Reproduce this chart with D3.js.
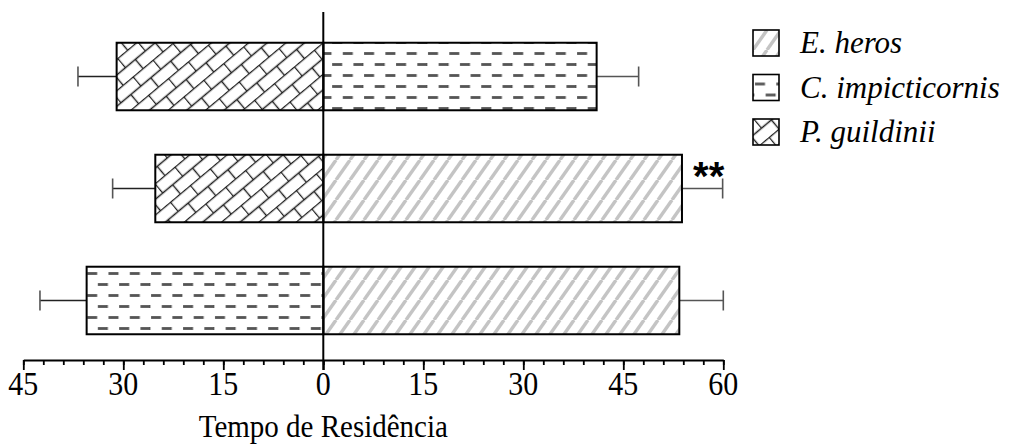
<!DOCTYPE html>
<html>
<head>
<meta charset="utf-8">
<script src="https://cdn.jsdelivr.net/npm/d3@7/dist/d3.min.js"></script>
<style>
  html, body { margin: 0; padding: 0; background: #fff; }
  svg { display: block; }
</style>
</head>
<body>
<svg id="chart" width="1028" height="446"></svg>
<script>
// Residence time per pair of species (mean ± error), one species on each side of zero
const species = ["E. heros", "C. impicticornis", "P. guildinii"];
const pairs = ["C. impicticornis / P. guildinii", "E. heros / P. guildinii", "E. heros / C. impicticornis"];
const rightSpecies = ["C. impicticornis", "E. heros", "E. heros"];
const rightMeans = [41, 53.8, 53.4];
const rightErrors = [6.3, 6.1, 6.6];
const leftSpecies = ["P. guildinii", "P. guildinii", "C. impicticornis"];
const leftMeans = [31, 25.2, 35.5];
const leftErrors = [5.8, 6.4, 7.0];
const significance = ["", "**", ""];
const majorTicks = [-45, -30, -15, 0, 15, 30, 45, 60];
const minorTicks = d3.range(-45, 61, 3);
const axisTitle = "Tempo de Residência";

const svg = d3.select("#chart");
const serif = "Liberation Serif";

const x = d3.scaleLinear().domain([-45, 60]).range([23.3, 723.3]);
const y = d3.scaleBand().domain(pairs).range([18.5, 358.5]).paddingInner(0.397).paddingOuter(0.2165);
const axisY = 360;

// Fill patterns, one per species
const defs = svg.append("defs");

const stripes = defs.append("pattern")
  .attr("id", "pat-heros").attr("patternUnits", "userSpaceOnUse")
  .attr("width", 14).attr("height", 20);
stripes.append("rect").attr("width", 14).attr("height", 20).attr("fill", "#fff");
[-14, 0, 14].forEach(dx => {
  stripes.append("line")
    .attr("x1", dx).attr("y1", 20).attr("x2", dx + 14).attr("y2", 0)
    .attr("stroke", "#c4c4c4").attr("stroke-width", 3.4);
});

const dashes = defs.append("pattern")
  .attr("id", "pat-cimp").attr("patternUnits", "userSpaceOnUse")
  .attr("width", 21.3).attr("height", 22).attr("y", 4);
dashes.append("rect").attr("width", 21.3).attr("height", 22).attr("fill", "#fff");
dashes.append("line").attr("x1", 2).attr("x2", 12).attr("y1", 5.5).attr("y2", 5.5)
  .attr("stroke", "#555").attr("stroke-width", 2.8);
dashes.append("line").attr("x1", 12.65).attr("x2", 22.65).attr("y1", 16.5).attr("y2", 16.5)
  .attr("stroke", "#555").attr("stroke-width", 2.8);
dashes.append("line").attr("x1", -8.65).attr("x2", 1.35).attr("y1", 16.5).attr("y2", 16.5)
  .attr("stroke", "#555").attr("stroke-width", 2.8);

const bricks = defs.append("pattern")
  .attr("id", "pat-guil").attr("patternUnits", "userSpaceOnUse")
  .attr("width", 26).attr("height", 24)
  .attr("patternTransform", "rotate(-40)");
bricks.append("rect").attr("width", 26).attr("height", 24).attr("fill", "#fff");
const brickPath = "M0,0.5H26M0,12.5H26M0.5,0.5V12.5M13.5,12.5V24.5";
bricks.append("path").attr("d", brickPath).attr("fill", "none")
  .attr("stroke", "#1e1e1e").attr("stroke-width", 1.4);

const fillFor = {
  "E. heros": "url(#pat-heros)",
  "C. impicticornis": "url(#pat-cimp)",
  "P. guildinii": "url(#pat-guil)"
};

// Error bars drawn first so the bars sit on top of their stems
const errColor = "#555";
const errG = svg.append("g");
pairs.forEach((p, i) => {
  const cy = y(p) + y.bandwidth() / 2;
  const rEnd = rightMeans[i] + rightErrors[i];
  const lEnd = -(leftMeans[i] + leftErrors[i]);
  errG.append("line").attr("x1", x(rightMeans[i])).attr("x2", x(rEnd)).attr("y1", cy).attr("y2", cy)
    .attr("stroke", errColor).attr("stroke-width", 1.6);
  errG.append("line").attr("x1", x(rEnd)).attr("x2", x(rEnd)).attr("y1", cy - 10).attr("y2", cy + 10)
    .attr("stroke", errColor).attr("stroke-width", 1.6);
  errG.append("line").attr("x1", x(-leftMeans[i])).attr("x2", x(lEnd)).attr("y1", cy).attr("y2", cy)
    .attr("stroke", "#222").attr("stroke-width", 1.6);
  errG.append("line").attr("x1", x(lEnd)).attr("x2", x(lEnd)).attr("y1", cy - 10).attr("y2", cy + 10)
    .attr("stroke", errColor).attr("stroke-width", 1.6);
});

// Bars
const barG = svg.append("g");
barG.selectAll("rect.right").data(pairs).join("rect")
  .attr("class", "right")
  .attr("x", x(0)).attr("y", d => y(d))
  .attr("width", (d, i) => x(rightMeans[i]) - x(0))
  .attr("height", y.bandwidth())
  .attr("fill", (d, i) => fillFor[rightSpecies[i]])
  .attr("stroke", "#000").attr("stroke-width", 2);
barG.selectAll("rect.left").data(pairs).join("rect")
  .attr("class", "left")
  .attr("x", (d, i) => x(-leftMeans[i])).attr("y", d => y(d))
  .attr("width", (d, i) => x(0) - x(-leftMeans[i]))
  .attr("height", y.bandwidth())
  .attr("fill", (d, i) => fillFor[leftSpecies[i]])
  .attr("stroke", "#000").attr("stroke-width", 2);

// Significance marks
svg.append("g").selectAll("text").data(pairs).join("text")
  .attr("x", (d, i) => x(rightMeans[i] + rightErrors[i]) - 14)
  .attr("y", d => y(d) + y.bandwidth() / 2 + 1)
  .attr("text-anchor", "middle")
  .attr("font-family", "Liberation Sans")
  .attr("font-weight", "bold")
  .attr("font-size", 40)
  .attr("fill", "#000")
  .text((d, i) => significance[i]);

// Zero line
svg.append("line")
  .attr("x1", x(0)).attr("x2", x(0)).attr("y1", 12).attr("y2", axisY + 10)
  .attr("stroke", "#000").attr("stroke-width", 2);

// Horizontal axis: minor ticks every 3, major every 15 (labels show absolute values)
const axisG = svg.append("g").attr("transform", `translate(0,${axisY})`);
axisG.append("g").call(
  d3.axisBottom(x).tickValues(minorTicks).tickSize(5).tickFormat("")
).call(g => g.select(".domain").remove())
 .call(g => g.selectAll("line").attr("stroke", "#000").attr("stroke-width", 1.8));
axisG.append("g")
  .call(d3.axisBottom(x).tickValues(majorTicks).tickSize(10).tickSizeOuter(0).tickFormat(""))
  .call(g => g.select(".domain").attr("stroke", "#000").attr("stroke-width", 2))
  .call(g => g.selectAll("line").attr("stroke", "#000").attr("stroke-width", 1.8));

// Tick labels and title, slightly stretched vertically
const stretch = 1.09;
svg.append("g").selectAll("text").data(majorTicks).join("text")
  .attr("transform", d => `translate(${x(d)},${axisY + 35}) scale(1,${stretch})`)
  .attr("text-anchor", "middle")
  .attr("font-family", serif).attr("font-size", 30).attr("fill", "#000")
  .text(d => Math.abs(d));

svg.append("text")
  .attr("transform", `translate(${x(0)},437) scale(1,${stretch})`)
  .attr("text-anchor", "middle")
  .attr("font-family", serif).attr("font-size", 29).attr("fill", "#000")
  .text(axisTitle);

// Legend
const legend = svg.append("g").attr("transform", "translate(753,30)");
const rowStep = 44.5;
species.forEach((s, i) => {
  const row = legend.append("g").attr("transform", `translate(0,${i * rowStep})`);
  row.append("rect").attr("width", 26).attr("height", 26)
    .attr("fill", fillFor[s]).attr("stroke", "#000").attr("stroke-width", 1.6);
  row.append("text").attr("x", 47).attr("y", 23)
    .attr("font-family", serif).attr("font-style", "italic").attr("font-size", 31)
    .attr("fill", "#000").text(s);
});
</script>
</body>
</html>
